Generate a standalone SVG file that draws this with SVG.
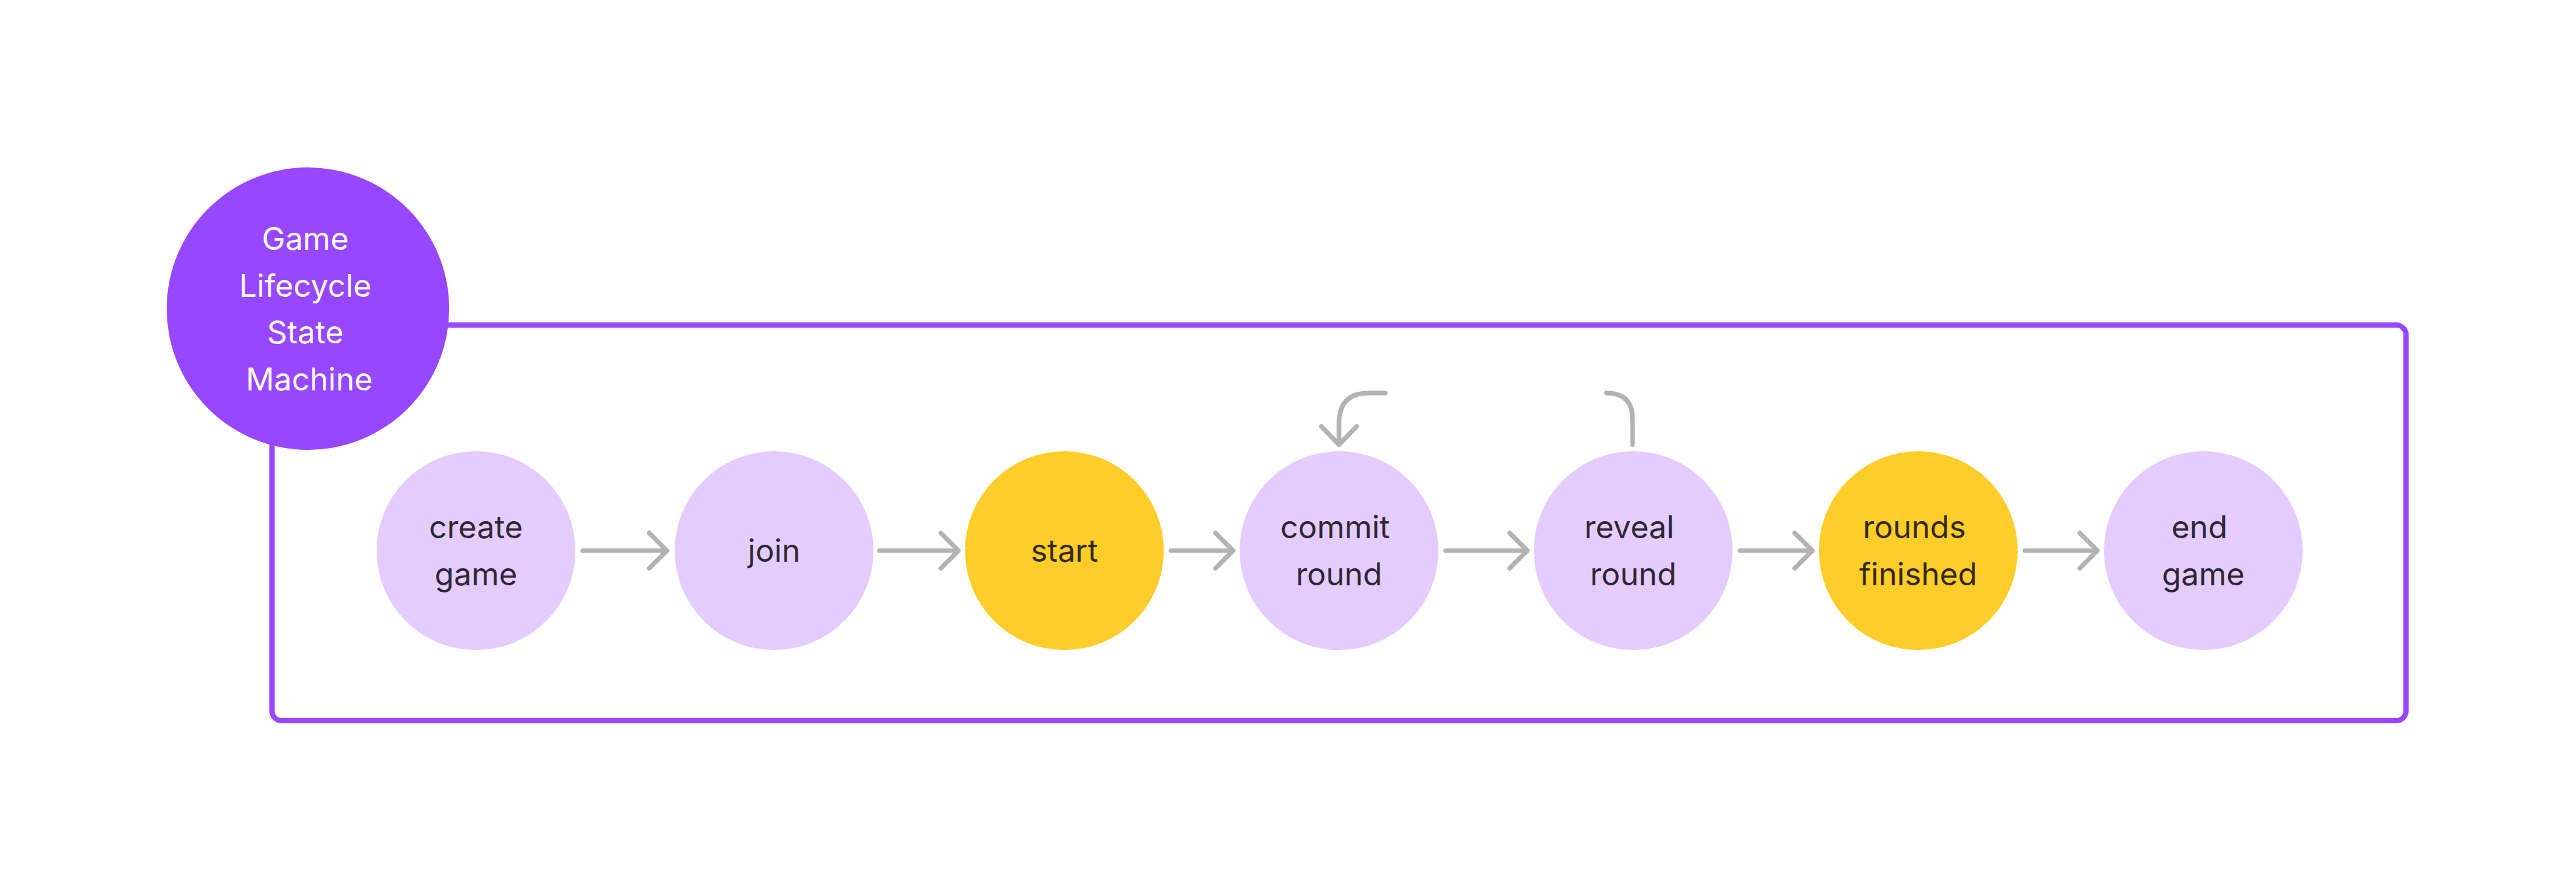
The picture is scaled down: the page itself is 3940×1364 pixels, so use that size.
<svg xmlns="http://www.w3.org/2000/svg" width="3940" height="1364" viewBox="0 0 3940 1364">
<defs>
<style>
.frame{fill:none;stroke:#9747FF;stroke-width:8}
.st{fill:#E4CCFF}
.hl{fill:#FFCD29}
.title{fill:#9747FF}
.t{font-family:Inter,"Liberation Sans",sans-serif;font-size:48px;text-anchor:middle}
.tw{fill:#FFFFFF}
.td{fill:#2D2734}
.ty{fill:#33290A}
.c{fill:none;stroke:#B3B3B3;stroke-width:7;stroke-linecap:round;stroke-linejoin:round}
</style>
</defs>
<rect width="3940" height="1364" fill="#FFFFFF"/>
<rect id="frame" class="frame" x="416" y="497" width="3264" height="605" rx="15"/>
<g id="title">
<circle class="title" cx="471" cy="472" r="216"/>
<text class="t tw" x="467" y="382">Game</text>
<text class="t tw" x="467" y="454">Lifecycle</text>
<text class="t tw" x="467" y="525">State</text>
<text class="t tw" x="473" y="597">Machine</text>
</g>
<g id="connectors">
<path class="c" d="M891 842H1020M993 815L1020 842L993 869"/>
<path class="c" d="M1345 842H1466M1439 815L1466 842L1439 869"/>
<path class="c" d="M1791 842H1886M1859 815L1886 842L1859 869"/>
<path class="c" d="M2211 842H2336M2309 815L2336 842L2309 869"/>
<path class="c" d="M2661 842H2772M2745 815L2772 842L2745 869"/>
<path class="c" d="M3097 842H3208M3181 815L3208 842L3181 869"/>
<path class="c" d="M2119 601H2094Q2048 601 2048 647V680M2021 652L2048 680L2075 652"/>
<path class="c" d="M2457 601Q2497 601 2497 641V680"/>
</g>
<g id="n-create">
<circle class="st" cx="728" cy="842" r="152"/>
<text class="t td" x="728" y="823">create</text>
<text class="t td" x="728" y="895">game</text>
</g>
<g id="n-join">
<circle class="st" cx="1184" cy="842" r="152"/>
<text class="t td" x="1184" y="859">join</text>
</g>
<g id="n-start">
<circle class="hl" cx="1628" cy="842" r="152"/>
<text class="t ty" x="1628" y="859">start</text>
</g>
<g id="n-commit">
<circle class="st" cx="2048" cy="842" r="152"/>
<text class="t td" x="2042" y="823">commit</text>
<text class="t td" x="2048" y="895">round</text>
</g>
<g id="n-reveal">
<circle class="st" cx="2498" cy="842" r="152"/>
<text class="t td" x="2492" y="823">reveal</text>
<text class="t td" x="2498" y="895">round</text>
</g>
<g id="n-rounds">
<circle class="hl" cx="2934" cy="842" r="152"/>
<text class="t ty" x="2928" y="823">rounds</text>
<text class="t ty" x="2934" y="895">finished</text>
</g>
<g id="n-end">
<circle class="st" cx="3370" cy="842" r="152"/>
<text class="t td" x="3364" y="823">end</text>
<text class="t td" x="3370" y="895">game</text>
</g>
</svg>
